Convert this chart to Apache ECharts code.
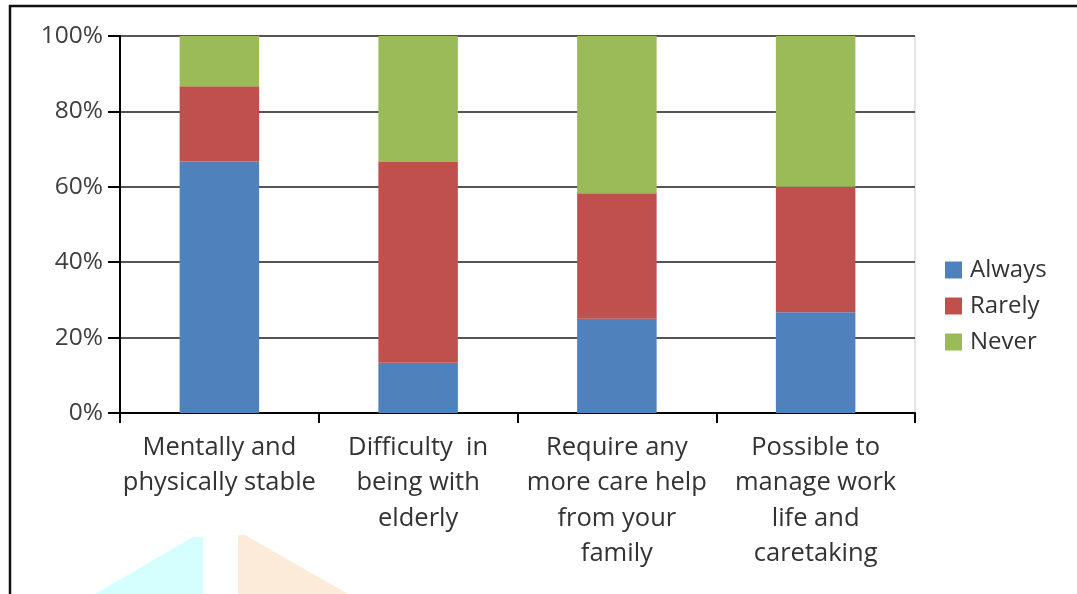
<!DOCTYPE html>
<html>
<head>
<meta charset="utf-8">
<script src="https://cdn.jsdelivr.net/npm/echarts@6/dist/echarts.min.js"></script>
<style>
html,body{margin:0;padding:0;background:#fff;}
#main{width:1077px;height:594px;}
</style>
</head>
<body>
<div id="main"></div>
<script>
const categories = [
  'Mentally and\nphysically stable',
  'Difficulty  in\nbeing with\nelderly',
  'Require any\nmore care help\nfrom your\nfamily',
  'Possible to\nmanage work\nlife and\ncaretaking'
];
const seriesNames = ['Always', 'Rarely', 'Never'];
const always = [66.7, 13.3, 25.0, 26.7];
const rarely = [20.0, 53.3, 33.3, 33.3];
const never = [13.3, 33.4, 41.7, 40.0];
const yTicks = [0, 20, 40, 60, 80, 100];

const colors = ['#4F81BD', '#C0504D', '#9BBB59'];
const FONT = '"Open Sans", "Noto Sans", sans-serif';

const chart = echarts.init(document.getElementById('main'), null, {renderer: 'canvas'});
const mk = (name, data, i) => ({
  name: name, type: 'bar', stack: 'total', data: data,
  barWidth: '40%', itemStyle: {color: colors[i]}
});
chart.setOption({
  animation: false,
  backgroundColor: '#fff',
  textStyle: {fontFamily: FONT},
  grid: {left: 120, right: 162, top: 36, bottom: 181, show: true, borderColor: '#c8c8c8', borderWidth: 1},
  legend: {
    orient: 'vertical', left: 940, top: 253,
    itemWidth: 17, itemHeight: 17, itemGap: 12,
    icon: 'rect',
    textStyle: {fontSize: 24, color: '#333', fontFamily: FONT, padding: [0,0,0,3]},
    data: seriesNames
  },
  xAxis: {
    type: 'category', data: categories,
    axisLine: {lineStyle: {color: '#000', width: 2}},
    axisTick: {show: true, length: 10, alignWithLabel: false, lineStyle: {color: '#000', width: 2}},
    axisLabel: {interval: 0, fontSize: 25.5, color: '#333', lineHeight: 35.3, margin: 17, fontFamily: FONT},
    splitLine: {show: false}
  },
  yAxis: {
    type: 'value', min: yTicks[0], max: yTicks[yTicks.length-1], interval: 20,
    axisLine: {show: true, lineStyle: {color: '#000', width: 2}},
    axisTick: {show: true, length: 12, lineStyle: {color: '#000', width: 2}},
    axisLabel: {formatter: '{value}%', fontSize: 24.5, color: '#404040', margin: 17, fontFamily: FONT},
    splitLine: {show: true, lineStyle: {color: '#555', width: 2}}
  },
  series: [mk(seriesNames[0], always, 0), mk(seriesNames[1], rarely, 1), mk(seriesNames[2], never, 2)],
  graphic: [
    {type: 'polygon', z: -1, shape: {points: [[95,594],[193,537],[203,537],[203,594]]}, style: {fill: '#D4FEFF'}},
    {type: 'polygon', z: -1, shape: {points: [[238,535],[245,535],[348,594],[238,594]]}, style: {fill: '#FDEBDA'}},
    {type: 'line', shape: {x1: 9, y1: 6, x2: 1077, y2: 6}, style: {stroke: '#111', lineWidth: 2.5}},
    {type: 'line', shape: {x1: 10, y1: 5, x2: 10, y2: 594}, style: {stroke: '#111', lineWidth: 2.5}}
  ]
});
</script>
</body>
</html>
